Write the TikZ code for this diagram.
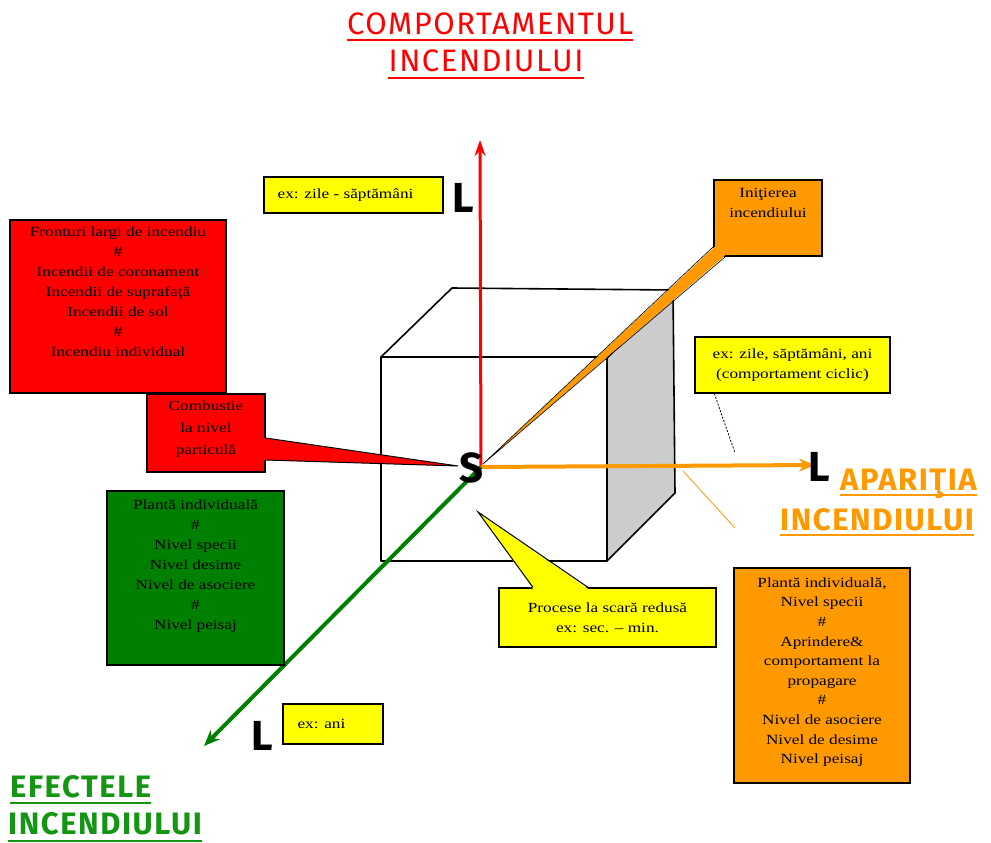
\documentclass[tikz,border=0pt]{standalone}
\usepackage{fontspec}
\setmainfont[FakeStretch=1.23]{Liberation Serif}
\newfontfamily\titlefont[LetterSpace=5]{Fira Sans}
\newfontfamily\letterfont{Fira Sans}
\usetikzlibrary{arrows.meta}
\definecolor{fred}{RGB}{255,0,0}
\definecolor{fyellow}{RGB}{255,255,0}
\definecolor{forange}{RGB}{255,153,0}
\definecolor{fgreen}{RGB}{0,128,0}
\definecolor{tgreen}{RGB}{20,150,20}
\definecolor{fgray}{RGB}{204,204,204}
\begin{document}
\begin{tikzpicture}[x=1pt,y=-1pt,
  box/.style={draw=black, line width=1.3pt, inner sep=0pt},
  boxtext/.style={font=\fontsize{14}{20}\selectfont, align=center, inner sep=0pt},
  tailline/.style={draw=black, line width=1pt, line join=miter},
  title/.style={font=\titlefont\fontsize{31}{31}\selectfont, inner sep=0pt, anchor=base},
  btitle/.style={font=\titlefont\bfseries\fontsize{31}{31}\selectfont, inner sep=0pt, anchor=base west},
  axisletter/.style={font=\letterfont\bfseries\fontsize{42}{42}\selectfont, inner sep=0pt, text=black},
  cubeedge/.style={draw=black, line width=1.6pt, line join=round}
]
\useasboundingbox (0,0) rectangle (991,843);

% ---- cube ----
\fill[fgray] (607,358) -- (673,290) -- (675,493) -- (607,561) -- cycle;
\draw[cubeedge] (381,357) rectangle (607,561);
\draw[cubeedge] (381,357) -- (452,288) -- (673,290) -- (607,358);
\draw[cubeedge] (673,290) -- (675,493) -- (607,561);

% ---- axes ----
\coordinate (O) at (481,467);
\coordinate (upEnd) at (480,140);
\coordinate (rightEnd) at (815,465);
\coordinate (downEnd) at (204,746);
\draw[fred, line width=3pt, -{Stealth[length=16pt,width=11pt]}] (O) -- (upEnd);
\draw[forange, line width=4pt, -{Stealth[length=16pt,width=13pt]}] (O) -- (rightEnd);
\draw[fgreen, line width=4pt, -{Stealth[length=16pt,width=13pt]}] (O) -- (downEnd);

% ---- callout: initiation ----
\node[box, fill=forange, minimum width=108pt, minimum height=76pt] (init) at (768,218) {};
\node[boxtext, anchor=north] (initT) at ([yshift=-9pt]init.north) {Iniţierea\\incendiului};
\coordinate (initTip) at (483,464);
\fill[forange] ([xshift=1.5pt,yshift=10pt]init.south west) -- (initTip) -- ([xshift=12pt,yshift=1.5pt]init.south west) -- cycle;
\draw[black, line width=0.6pt] ([yshift=10pt]init.south west) -- (initTip) -- ([xshift=12pt]init.south west);

% ---- big red box ----
\node[box, fill=fred, minimum width=216pt, minimum height=173pt] (fronts) at (118,306.5) {};
\node[boxtext, anchor=north] (frontsT) at ([yshift=-7pt]fronts.north)
  {Fronturi largi de incendiu\\\#\\Incendii de coronament\\Incendii de suprafaţă\\Incendii de sol\\\#\\Incendiu individual};

% ---- callout: particle combustion ----
\node[box, fill=fred, minimum width=118pt, minimum height=78pt] (comb) at (206,433) {};
\node[boxtext, anchor=north, font=\fontsize{14}{22}\selectfont] (combT) at ([yshift=-7pt]comb.north) {Combustie\\la nivel\\particulă};
\coordinate (combTip) at (458,466);
\fill[fred] ([xshift=-1.5pt,yshift=-5pt]comb.east) -- (combTip) -- ([xshift=-1.5pt,yshift=-27pt]comb.east) -- cycle;
\draw[tailline] ([yshift=-5pt]comb.east) -- (combTip) -- ([yshift=-27pt]comb.east);

% ---- green box ----
\node[box, fill=fgreen, minimum width=177pt, minimum height=174pt] (plant) at (195.5,578) {};
\node[boxtext, anchor=north] (plantT) at ([yshift=-9pt]plant.north)
  {Plantă individuală\\\#\\Nivel specii\\Nivel desime\\Nivel de asociere\\\#\\Nivel peisaj};

% ---- orange box ----
\node[box, fill=forange, minimum width=176pt, minimum height=215pt] (ign) at (822,675.5) {};
\node[boxtext, anchor=north, font=\fontsize{14}{19.6}\selectfont] (ignT) at ([yshift=-10pt]ign.north)
  {Plantă individuală,\\Nivel specii\\\#\\Aprindere\&\\comportament la\\propagare\\\#\\Nivel de asociere\\Nivel de desime\\Nivel peisaj};

% ---- yellow boxes ----
\node[box, fill=fyellow, minimum width=179pt, minimum height=36pt] (weeks) at (353.5,195) {};
\node[boxtext] (weeksT) at ([xshift=-8pt]weeks.center) {ex: zile - săptămâni};

\node[box, fill=fyellow, minimum width=195pt, minimum height=56pt] (cyc) at (792.5,365) {};
\node[boxtext] (cycT) at (cyc.center) {ex: zile, săptămâni, ani\\(comportament ciclic)};
\coordinate (cycEnd) at (735,453);
\draw[black, line width=0.8pt, dash pattern=on 2pt off 1.5pt] ([xshift=20pt]cyc.south west) -- (cycEnd);

\node[box, fill=fyellow, minimum width=217pt, minimum height=59pt] (proc) at (607.5,617.5) {};
\node[boxtext] (procT) at (proc.center) {Procese la scară redusă\\ex: sec. – min.};
\coordinate (procTip) at (478,512);
\fill[fyellow] ([xshift=-74.5pt,yshift=-1.5pt]proc.north) -- (procTip) -- ([xshift=-19.5pt,yshift=-1.5pt]proc.north) -- cycle;
\draw[tailline] ([xshift=-74.5pt]proc.north) -- (procTip) -- ([xshift=-19.5pt]proc.north);

\node[box, fill=fyellow, minimum width=100pt, minimum height=40pt] (years) at (333,724) {};
\node[boxtext, anchor=west] (yearsT) at ([xshift=15pt]years.west) {ex: ani};

% ---- thin orange pointer to the appearance label ----
\coordinate (apA) at (683,471);
\coordinate (apB) at (735,528);
\draw[forange, line width=0.8pt] (apA) -- (apB);

% ---- axis letters ----
\node[axisletter] (S) at (472,468) {S};
\node[axisletter] (Lup) at (463,198) {L};
\node[axisletter] (Lright) at (819,467) {L};
\node[axisletter] (Ldown) at (262,736) {L};

% ---- axis titles ----
\node[title, text=fred] (t1a) at (490,35) {COMPORTAMENTUL};
\node[title, text=fred] (t1b) at (486,72) {INCENDIULUI};
\draw[fred, line width=1.6pt] ([yshift=-5pt]t1a.base west) -- ([yshift=-5pt]t1a.base east);
\draw[fred, line width=1.6pt] ([yshift=-6pt]t1b.base west) -- ([yshift=-6pt]t1b.base east);

\node[btitle, text=tgreen] (t2a) at (10,797) {EFECTELE};
\node[btitle, text=tgreen] (t2b) at (8,834) {INCENDIULUI};
\draw[tgreen, line width=1.6pt] ([yshift=-6pt]t2a.base west) -- ([yshift=-6pt]t2a.base east);
\draw[tgreen, line width=1.6pt] ([yshift=-7pt]t2b.base west) -- ([yshift=-7pt]t2b.base east);

\node[btitle, text=forange] (t3a) at (840,490) {APARIŢIA};
\node[btitle, text=forange] (t3b) at (780,530) {INCENDIULUI};
\draw[forange, line width=1.6pt] ([yshift=-5pt]t3a.base west) -- ([yshift=-5pt]t3a.base east);
\draw[forange, line width=1.6pt] ([yshift=-5pt]t3b.base west) -- ([yshift=-5pt]t3b.base east);
\end{tikzpicture}
\end{document}
